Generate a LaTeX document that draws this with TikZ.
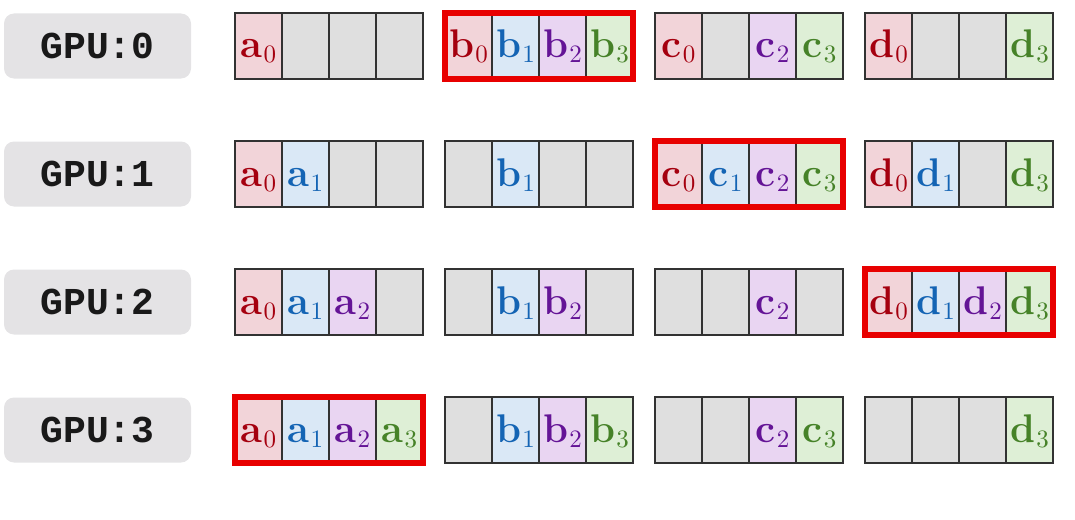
\documentclass[tikz,border=0pt]{standalone}
\usepackage{fontspec}
\usepackage{xcolor}
\usetikzlibrary{positioning}
\newfontfamily\gpufont{Liberation Mono}
\newfontfamily\subfont{lmroman10-regular.otf}

\definecolor{fill0}{RGB}{242,212,217}
\definecolor{fill1}{RGB}{218,232,246}
\definecolor{fill2}{RGB}{233,213,242}
\definecolor{fill3}{RGB}{222,239,214}
\definecolor{txt0}{RGB}{165,0,15}
\definecolor{txt1}{RGB}{20,100,180}
\definecolor{txt2}{RGB}{100,20,150}
\definecolor{txt3}{RGB}{70,130,40}
\definecolor{emptycell}{RGB}{223,223,223}
\definecolor{labelgray}{RGB}{228,227,229}
\definecolor{cellline}{RGB}{50,50,50}
\definecolor{hlred}{RGB}{232,0,0}

\tikzset{
  gpulabel/.style={fill=labelgray, rounded corners=10pt, minimum width=187pt,
    minimum height=65pt, inner sep=0pt, text=black!90,
    font=\gpufont\bfseries\fontsize{38}{40}\selectfont},
  cellbox/.style={draw=cellline, line width=1.2pt, minimum width=47pt,
    minimum height=66pt, inner sep=0pt, outer sep=0pt, text height=24pt,
    text depth=0pt, xshift=2pt, font=\fontsize{40}{44}\selectfont\bfseries},
  hlbox/.style={draw=hlred, line width=6pt},
}

\newcommand{\shardtext}[2]{#1\kern1pt\lower5pt\hbox{\subfont\fontsize{25}{27}\selectfont #2}}

\begin{document}
\begin{tikzpicture}[x=1pt,y=-1pt]
\useasboundingbox (0,0) rectangle (1075,519);
\foreach \hl/\cells [count=\g from 0] in {1/{1,0,0,0,1,1,1,1,1,0,1,1,1,0,0,1},
    2/{1,1,0,0,0,1,0,0,1,1,1,1,1,1,0,1}, 3/{1,1,1,0,0,1,1,0,0,0,1,0,1,1,1,1},
    0/{1,1,1,1,0,1,1,1,0,0,1,1,0,0,0,1}} {
  \pgfmathsetmacro{\yc}{46+128*\g}
  % GPU label
  \node[gpulabel] (gpu\g) at (97.5,\yc) {GPU:\g};
  % shards a, b, c, d held by this GPU
  \foreach \f [count=\n from 0] in \cells {
    \pgfmathtruncatemacro{\k}{\n/4}
    \pgfmathtruncatemacro{\j}{mod(\n,4)}
    \pgfmathsetmacro{\xc}{256.5+210*\k+47*\j}
    \ifnum\f=1
      \node[cellbox, fill=fill\j, text=txt\j] (cell-\g-\k-\j) at (\xc,\yc)
        {\shardtext{\ifcase\k a\or b\or c\or d\fi}{\j}};
    \else
      \node[cellbox, fill=emptycell] (cell-\g-\k-\j) at (\xc,\yc) {};
    \fi
  }
  % the block this GPU owns
  \draw[hlbox] (cell-\g-\hl-0.north west) rectangle (cell-\g-\hl-3.south east);
}
\end{tikzpicture}
\end{document}
